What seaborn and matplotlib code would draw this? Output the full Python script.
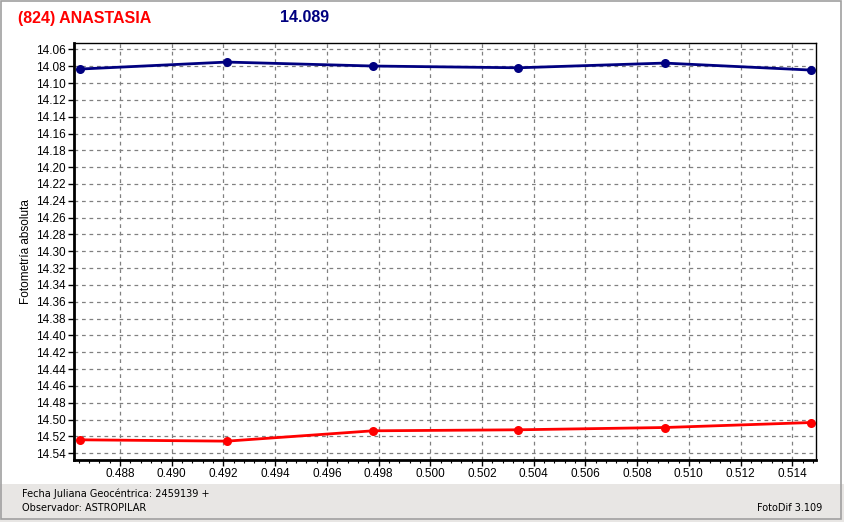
import pandas as pd
import matplotlib.pyplot as plt
import seaborn as sns
from matplotlib.patches import Rectangle
from matplotlib.ticker import MultipleLocator, AutoMinorLocator

# Photometry values
jd = [0.48645, 0.49213, 0.49778, 0.50340, 0.50906, 0.51471]
mag_asteroid = [14.0834, 14.0751, 14.0798, 14.0819, 14.0763, 14.0846]
mag_comp = [14.5240, 14.5256, 14.5133, 14.5121, 14.5094, 14.5035]

title_name = '(824) ANASTASIA'
title_mag = '14.089'
jd_base = '2459139'
observer = 'ASTROPILAR'

sns.set_style('ticks')
plt.rcParams['font.family'] = ['Liberation Sans', 'DejaVu Sans']

data = pd.DataFrame({
    'jd': jd * 2,
    'mag': mag_asteroid + mag_comp,
    'serie': ['asteroide'] * len(jd) + ['comparacion'] * len(jd),
})

fig = plt.figure(figsize=(8.44, 5.22), dpi=100)
fig.patch.set_facecolor('white')

# gray footer band and window border
fig.patches.append(Rectangle((0, 0), 1, 38 / 522, transform=fig.transFigure,
                             facecolor='#e8e6e4', edgecolor='none', zorder=0))
fig.patches.append(Rectangle((0.5 / 844, 3 / 522), 840 / 844, 518 / 522, transform=fig.transFigure,
                             facecolor='none', edgecolor='#a0a0a0', lw=1.2, zorder=5))

ax = fig.add_axes([74 / 844, 1 - 460 / 522, 741.7 / 844, 416.7 / 522])
sns.lineplot(data=data, x='jd', y='mag', hue='serie',
             palette={'asteroide': '#000080', 'comparacion': '#ff0000'},
             marker='o', markersize=6.5, markeredgewidth=0, linewidth=2,
             legend=False, ax=ax)

ax.set_xlim(0.48622, 0.514906)
ax.set_ylim(14.548, 14.0528)
ax.yaxis.set_major_locator(MultipleLocator(0.02))
ax.xaxis.set_major_locator(MultipleLocator(0.002))
ax.xaxis.set_minor_locator(AutoMinorLocator(5))
ax.yaxis.set_major_formatter(plt.FormatStrFormatter('%.2f'))
ax.xaxis.set_major_formatter(plt.FormatStrFormatter('%.3f'))
ax.grid(True, which='major', linestyle=(0, (3, 3)), color='#808080', linewidth=0.9)
ax.tick_params(axis='both', which='major', labelsize=8.5, length=4, width=1,
               color='black', labelcolor='black', pad=2)
ax.tick_params(axis='x', which='minor', length=2, width=0.8, color='black')
ax.set_xlabel('')
ax.set_ylabel('Fotometría absoluta', fontsize=8.5, color='black')
ax.yaxis.set_label_coords(-0.057, 0.5)
for side in ['left', 'bottom']:
    ax.spines[side].set_linewidth(2)
    ax.spines[side].set_color('black')
for side in ['top', 'right']:
    ax.spines[side].set_visible(True)
    ax.spines[side].set_linewidth(1)
    ax.spines[side].set_color('black')

fig.text(18 / 844, 1 - 18 / 522, title_name, color='#ff0000', fontsize=11.5,
         fontweight='bold', va='center', ha='left')
fig.text(280 / 844, 1 - 18 / 522, title_mag, color='#000080', fontsize=11.5,
         fontweight='bold', va='center', ha='left')

fig.text(22 / 844, 1 - 494 / 522, 'Fecha Juliana Geocéntrica: ' + jd_base + ' +',
         fontsize=7, family=['DejaVu Sans'], va='center', ha='left', color='black')
fig.text(22 / 844, 1 - 508 / 522, 'Observador: ' + observer,
         fontsize=7, family=['DejaVu Sans'], va='center', ha='left', color='black')
fig.text(822 / 844, 1 - 508 / 522, 'FotoDif 3.109',
         fontsize=7, family=['DejaVu Sans'], va='center', ha='right', color='black')

fig.savefig('out.png', dpi=100)
